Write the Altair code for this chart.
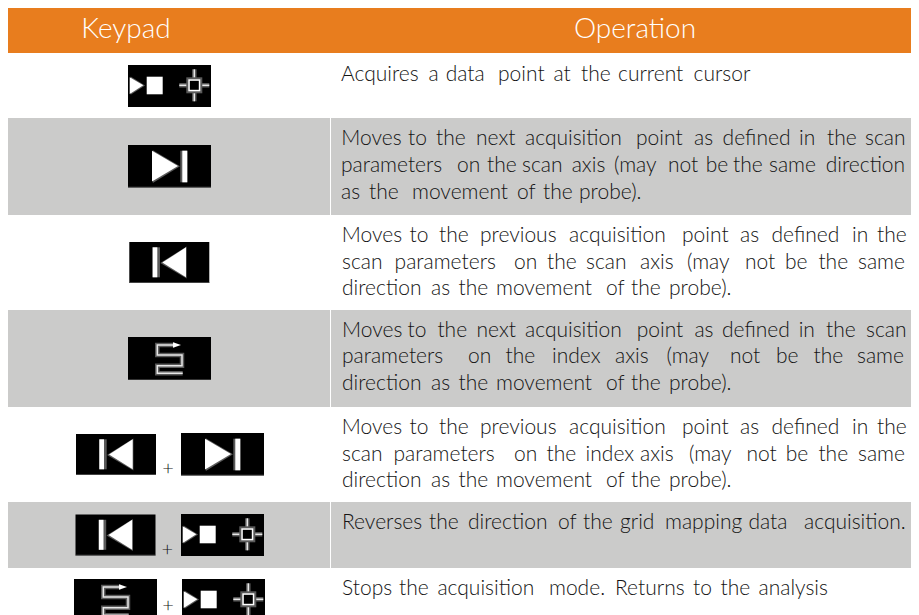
import altair as alt
import pandas as pd

# ---------- table content ----------
headers = ["Keypad", "Operation"]
header_x = [126, 635]
row_edges_gray = [(118, 215), (310, 407), (502, 568)]

row1_words = ["Acquires", "a", "data", "point", "at", "the", "current", "cursor"]
row1_x = [341, 428.4, 445.7, 498, 553.5, 581, 618, 693.6]

r2l1 = ["Moves", "to", "the", "next", "acquisition", "point", "as", "defined", "in", "the", "scan"]
r2l1x = [341.3, 408, 436, 476, 525, 636, 694, 722.6, 799, 827, 865]
r2l2 = ["parameters", "on", "the", "scan", "axis", "(may", "not", "be", "the", "same", "direction"]
r2l2x = [341, 457, 487, 522, 571.7, 614, 668, 705.7, 733, 769, 825.7]
last_line = ["direction", "as", "the", "movement", "of", "the", "probe)."]
last_line_x = [342, 431, 458.6, 496, 606, 631, 669]
r2l3 = ["as", "the", "movement", "of", "the", "probe)."]
r2l3x = [341, 369, 412, 517, 543, 579]

r3l1 = ["Moves", "to", "the", "previous", "acquisition", "point", "as", "defined", "in", "the"]
r3l1x = [341.7, 409.5, 439, 480, 569, 682, 740, 771.5, 852, 877]
r3l2 = ["scan", "parameters", "on", "the", "scan", "axis", "(may", "not", "be", "the", "same"]
r3l2x = [342, 394.6, 514, 547, 586, 640, 687, 745, 785, 818.4, 858]

r4l1 = ["Moves", "to", "the", "next", "acquisition", "point", "as", "defined", "in", "the", "scan"]
r4l1x = [342, 407.6, 437.4, 476.5, 525, 636.7, 694.4, 722, 798.7, 826, 866]
r4l2 = ["parameters", "on", "the", "index", "axis", "(may", "not", "be", "the", "same"]
r4l2x = [342, 468, 505.6, 552, 615, 666.5, 730, 776, 813.6, 857]

r5l2 = ["scan", "parameters", "on", "the", "index", "axis", "(may", "not", "be", "the", "same"]
r5l2x = [342, 393.5, 514, 546.5, 585.6, 640, 689, 746.5, 785.7, 818.4, 858]

r6 = ["Reverses", "the", "direction", "of", "the", "grid", "mapping", "data", "acquisition."]
r6x = [342, 429, 468, 558, 583, 620, 665, 748.4, 804]

r7 = ["Stops", "the", "acquisition", "mode.", "Returns", "to", "the", "analysis"]
r7x = [342, 399, 437.4, 549, 615, 693, 720.5, 758.5]

text_lines = [
    (row1_words, row1_x, 81), (r2l1, r2l1x, 145), (r2l2, r2l2x, 172), (r2l3, r2l3x, 199),
    (r3l1, r3l1x, 242), (r3l2, r3l2x, 269), (last_line, last_line_x, 295),
    (r4l1, r4l1x, 337), (r4l2, r4l2x, 363), (last_line, last_line_x, 390),
    (r3l1, r3l1x, 434), (r5l2, r5l2x, 461), (last_line, last_line_x, 487),
    (r6, r6x, 529), (r7, r7x, 595),
]

# ---------- palette ----------
ORANGE, GRAY, BLACK, WHITE, EDGE = "#E87D1E", "#CBCBCA", "#000000", "#FFFFFF", "#5A5A5A"
RIGHT = 911  # the page's content box ends here

back, tris, under, over, top = [], [], [], [], []
gid = [0]


def rect(store, x, x2, y, y2, c):
    store.append(dict(x=x, x2=x2, y=y, y2=min(y2, 615), c=c))


def tri(xa, ya, yb, xb, yc, c):
    """Triangle with base at xa (ya..yb) and apex at (xb, yc), as a filled symbol."""
    cx, cy = (xa + xb) / 2, (ya + yb) / 2
    hh = (yb - ya) / 2
    r = (xb - xa) / 2 / hh
    ay = (yc - cy) / hh
    shape = f"M {-r:.3f} -1 L {r:.3f} {ay:.3f} L {-r:.3f} 1 Z"
    tris.append(dict(x=cx, y=cy, s=shape, z=(2 * hh) ** 2, c=c))


def path(store, pts):
    gid[0] += 1
    for i, (x, y) in enumerate(pts):
        store.append(dict(g=gid[0], o=i, x=x, y=y))


def icon_acquire(ox, oy, bottom=None):
    rect(back, ox, ox + 83, oy, bottom or oy + 42, BLACK)
    tri(ox + 2.6, oy + 11.5, oy + 29.8, ox + 17, oy + 20.6, EDGE)
    tri(ox + 1.7, oy + 12.3, oy + 29, ox + 15.3, oy + 20.3, WHITE)
    rect(top, ox + 18.7, ox + 34.7, oy + 11.7, oy + 29.3, WHITE)
    cx, cy = ox + 66.3, oy + 20.3
    path(under, [(cx - 15, cy), (cx + 15, cy)])
    path(under, [(cx, cy - 16), (cx, cy + 16)])
    path(over, [(cx - 15, cy), (cx + 15, cy)])
    path(over, [(cx, cy - 16), (cx, cy + 16)])
    rect(top, cx - 8, cx + 8, cy - 8, cy + 8, EDGE)
    rect(top, cx - 6, cx + 6, cy - 6, cy + 6, WHITE)
    rect(top, cx - 4.5, cx + 4.5, cy - 4.5, cy + 4.5, BLACK)


def icon_next(ox, oy):
    rect(back, ox, ox + 83, oy, oy + 42.5, BLACK)
    rect(back, ox, ox + 83, oy + 41.8, oy + 42.6, EDGE)
    tri(ox + 24.8, oy + 5.3, oy + 38, ox + 52, oy + 21.2, EDGE)
    tri(ox + 24, oy + 5.7, oy + 36.6, ox + 50, oy + 21, WHITE)
    rect(top, ox + 52.3, ox + 59.3, oy + 5.7, oy + 37.3, EDGE)
    rect(top, ox + 54.3, ox + 59.3, oy + 5.7, oy + 37.3, WHITE)


def icon_prev(ox, oy):
    rect(back, ox, ox + 80, oy, oy + 41, BLACK)
    rect(back, ox, ox + 80, oy + 40.2, oy + 41, EDGE)
    tri(ox + 57.4, oy + 4.6, oy + 36.4, ox + 31, oy + 21, EDGE)
    tri(ox + 56.7, oy + 5.3, oy + 35.3, ox + 33, oy + 20.6, WHITE)
    rect(top, ox + 23.3, ox + 30.7, oy + 5.3, oy + 35.3, EDGE)
    rect(top, ox + 23.3, ox + 28, oy + 5.3, oy + 35.3, WHITE)


def icon_index(ox, oy, bottom=None):
    rect(back, ox, ox + 83, oy, bottom or oy + 42.7, BLACK)
    pts = [(54.7, 36.3), (29.3, 36.3), (29.3, 28.7), (54, 28.7), (54, 18), (29.3, 18), (29.3, 8), (47, 8)]
    abs_pts = [(ox + a, oy + b) for a, b in pts]
    path(under, abs_pts)
    path(over, abs_pts)
    tri(ox + 45, oy + 5.3, oy + 10.7, ox + 53, oy + 8, WHITE)


icon_acquire(128, 65)
icon_next(128, 145)
icon_prev(129.3, 242)
icon_index(128, 337)
icon_prev(76, 434)
icon_next(181, 433)
icon_prev(75.5, 514.5)
icon_acquire(181, 514)
icon_index(74, 579, bottom=615)
icon_acquire(182, 579, bottom=615)

plus_x = [168, 167.3, 168]
plus_y = [469, 549.5, 606]

# ---------- background ----------
bg = [dict(x=8, x2=RIGHT, y=8, y2=53, c=ORANGE)]
for t, b in row_edges_gray:
    bg.append(dict(x=8, x2=RIGHT, y=t, y2=b, c=GRAY))
    bg.append(dict(x=330, x2=331, y=t, y2=b, c=WHITE))

words = [dict(w=w, x=x, y=y) for ws, xs, y in text_lines for w, x in zip(ws, xs)]
heads = [dict(w=w, x=x, y=38) for w, x in zip(headers, header_x)]
plus = [dict(w="+", x=x, y=y) for x, y in zip(plus_x, plus_y)]

sx = alt.Scale(domain=[8, RIGHT], nice=False, zero=False)
sy = alt.Scale(domain=[615, 8], nice=False, zero=False)
X = alt.X("x:Q", scale=sx, axis=None)
Y = alt.Y("y:Q", scale=sy, axis=None)
C = alt.Color("c:N", scale=None, legend=None)


def rects(rows):
    return alt.Chart(pd.DataFrame(rows)).mark_rect(clip=True).encode(
        x=X, x2="x2:Q", y=Y, y2="y2:Q", color=C)


def lines(rows, color, width):
    return alt.Chart(pd.DataFrame(rows)).mark_line(color=color, strokeWidth=width, clip=True).encode(
        x=X, y=Y, detail="g:N", order="o:Q")


triangles = alt.Chart(pd.DataFrame(tris)).mark_point(filled=True, opacity=1, strokeWidth=0, clip=True).encode(
    x=X, y=Y, color=C,
    shape=alt.Shape("s:N", scale=None, legend=None),
    size=alt.Size("z:Q", scale=None, legend=None),
)

FONT = "Lato"
text_body = alt.Chart(pd.DataFrame(words)).mark_text(
    font=FONT, fontSize=21, fontWeight=300, color="#141414", align="left", baseline="alphabetic"
).encode(x=X, y=Y, text="w:N")
text_head = alt.Chart(pd.DataFrame(heads)).mark_text(
    font=FONT, fontSize=28, fontWeight=300, color=WHITE, align="center", baseline="alphabetic"
).encode(x=X, y=Y, text="w:N")
text_plus = alt.Chart(pd.DataFrame(plus)).mark_text(
    font=FONT, fontSize=20, fontWeight=300, color="#141414", align="center", baseline="middle"
).encode(x=X, y=Y, text="w:N")

chart = alt.layer(
    rects(bg), rects(back), lines(under, EDGE, 4.5), lines(over, "#E8E8E8", 1.5),
    triangles, rects(top), text_body, text_head, text_plus,
).properties(width=RIGHT - 8, height=607, padding=0, autosize=alt.AutoSizeParams(type="none")
).configure_view(stroke=None)

chart.save("out.html", embed_options={"renderer": "svg", "actions": False})
